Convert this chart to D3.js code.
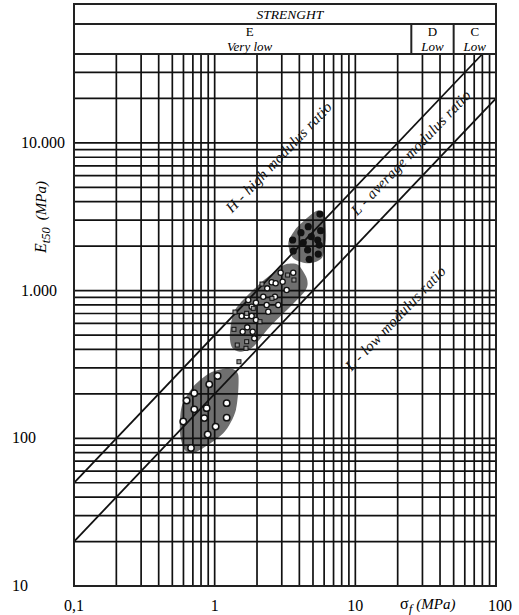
<!DOCTYPE html>
<html lang="en">
<head>
<meta charset="UTF-8">
<title>Modulus ratio chart</title>
<script src="https://d3js.org/d3.v7.min.js"></script>
<style>
  body { margin: 0; background: #fff; }
  svg { display: block; font-family: 'Liberation Serif', 'Times New Roman', serif; }
</style>
</head>
<body>
<div id="chart"></div>
<script>
// axis ticks
const xTickValues = [0.1, 1, 10, 100];
const xTickLabels = ["0,1", "1", "10", "100"];
const yTickValues = [10, 100, 1000, 10000];
const yTickLabels = ["10", "100", "1.000", "10.000"];

// strength classes in the header
const strengthBounds = [0.1, 25, 50, 100];
const strengthLetters = ["E", "D", "C"];
const strengthNames = ["Very low", "Low", "Low"];

// modulus ratio lines, E = ratio * sigma
const ratioValues = [500, 200];
const ratioLabels = ["H - high modulus ratio", "L - average modulus ratio", "L - low modulus ratio"];
const ratioLabelRatio = [2500, 310, 30];
const ratioLabelStart = [1.33, 10.3, 9.4];

// samples: [sigma_f, E_t50] in MPa
const lowBlob = [[1.252, 298], [1.472, 268], [1.417, 156], [1.151, 108], [0.745, 81],
  [0.615, 83], [0.567, 109], [0.583, 164], [0.705, 224], [0.926, 277]];
const lowCircles = [[1.05, 264], [0.915, 232], [0.716, 202], [0.632, 180], [1.217, 173],
  [0.716, 157], [0.877, 160], [0.844, 137], [0.598, 130], [1.217, 138], [1.016, 120],
  [0.892, 106], [0.679, 86]];

const midBlob = [[3.929, 1491], [4.551, 1180], [4.263, 958], [2.472, 569], [1.881, 417],
  [1.513, 386], [1.321, 417], [1.284, 514], [1.394, 739], [1.988, 1063], [2.758, 1379], [3.249, 1514]];
const midCircles = [[2.541, 1138], [2.713, 1121], [3.043, 1149], [2.945, 1322], [3.619, 1322],
  [2.364, 1036], [3.249, 1009], [2.215, 909], [2.683, 909], [1.733, 864], [1.966, 828],
  [2.342, 799], [2.831, 799], [1.832, 778], [2.404, 720], [1.556, 673], [1.689, 673],
  [1.832, 673], [1.966, 632], [1.705, 564], [1.863, 527], [1.581, 527], [1.912, 475]];
const midSquares = [[3.303, 1275], [3.661, 1180], [1.881, 759], [1.689, 702], [1.371, 547],
  [1.447, 428], [1.689, 451], [1.670, 407], [2.099, 616], [2.554, 887], [1.394, 716],
  [2.169, 1108], [1.488, 330]];

const highBlob = [[5.539, 3475], [6.078, 3250], [6.18, 2201], [5.761, 1655], [4.626, 1530],
  [3.619, 1655], [3.335, 2090], [3.721, 2572], [4.507, 3087], [5.163, 3421]];
const highDots = [[5.604, 3300], [4.626, 2708], [5.668, 2545], [4.105, 2466], [4.86, 2317],
  [5.397, 2201], [3.584, 2201], [4.263, 2110], [5.539, 2035], [3.619, 1854], [4.581, 1883],
  [5.449, 1769], [4.703, 1629]];

const width = 519, height = 615;
const x = d3.scaleLog().domain([0.1, 100]).range([74, 496]);
const y = d3.scaleLog().domain([10, 40000]).range([586, 54]);
const headerTop = 4, headerMid = 24;

const svg = d3.select("#chart").append("svg")
  .attr("width", width).attr("height", height);

// blobs behind the grid
const blobLine = d3.line().x(d => x(d[0])).y(d => y(d[1])).curve(d3.curveCardinalClosed.tension(0.2));
svg.selectAll("path.blob")
  .data([lowBlob, midBlob, highBlob])
  .join("path")
  .attr("class", "blob")
  .attr("d", blobLine)
  .attr("fill", "#6f6f6f");

// grid
const gridStroke = 1.7;
svg.append("g").selectAll("line")
  .data(x.ticks())
  .join("line")
  .attr("x1", d => x(d)).attr("x2", d => x(d))
  .attr("y1", y.range()[1]).attr("y2", y.range()[0])
  .attr("stroke", "#111").attr("stroke-width", gridStroke);

svg.append("g").selectAll("line")
  .data(y.ticks().filter(d => d <= 40000))
  .join("line")
  .attr("x1", x.range()[0]).attr("x2", x.range()[1])
  .attr("y1", d => y(d)).attr("y2", d => y(d))
  .attr("stroke", "#111").attr("stroke-width", gridStroke);

// modulus ratio lines
svg.append("g").selectAll("line")
  .data(ratioValues)
  .join("line")
  .attr("x1", x(0.1)).attr("y1", r => y(r * 0.1))
  .attr("x2", r => x(Math.min(100, 40000 / r)))
  .attr("y2", r => y(Math.min(100, 40000 / r) * r))
  .attr("stroke", "#111").attr("stroke-width", 1.8);

const angle = Math.atan2(y(1000) - y(100), x(10) - x(1)) * 180 / Math.PI;
svg.append("g").selectAll("text")
  .data(ratioLabels)
  .join("text")
  .attr("transform", (d, i) => {
    const s = ratioLabelStart[i];
    return `translate(${x(s)},${y(s * ratioLabelRatio[i])}) rotate(${angle})`;
  })
  .attr("font-size", 15)
  .attr("letter-spacing", 0.4)
  .attr("font-style", "italic")
  .attr("fill", "#111")
  .text(d => d);

// header
const header = svg.append("g").attr("fill", "none").attr("stroke", "#222").attr("stroke-width", 2);
header.append("rect")
  .attr("x", x.range()[0]).attr("y", headerTop)
  .attr("width", x.range()[1] - x.range()[0]).attr("height", y.range()[0] - headerTop);
header.append("line")
  .attr("x1", x.range()[0]).attr("x2", x.range()[1])
  .attr("y1", headerMid).attr("y2", headerMid);
header.append("line")
  .attr("x1", x.range()[0]).attr("x2", x.range()[1])
  .attr("y1", y.range()[1]).attr("y2", y.range()[1]);
header.selectAll("line.sep")
  .data(strengthBounds.slice(1, -1))
  .join("line")
  .attr("class", "sep")
  .attr("x1", d => x(d)).attr("x2", d => x(d))
  .attr("y1", headerMid).attr("y2", y.range()[1]);

svg.append("text")
  .attr("x", (x.range()[0] + x.range()[1]) / 2 + 5).attr("y", 19)
  .attr("text-anchor", "middle")
  .attr("font-size", 13.5).attr("font-style", "italic")
  .text("STRENGHT");

const cls = svg.append("g").selectAll("g")
  .data(strengthLetters)
  .join("g")
  .attr("transform", (d, i) => {
    const cx = (x(strengthBounds[i]) + x(strengthBounds[i + 1])) / 2;
    return `translate(${i === 0 ? cx + 7 : cx},0)`;
  })
  .attr("text-anchor", "middle")
  .attr("font-size", 13);
cls.append("text").attr("y", 35.5).text(d => d);
cls.append("text").attr("y", 50.5).attr("font-style", "italic").text((d, i) => strengthNames[i]);

// markers
svg.append("g").selectAll("circle")
  .data(lowCircles)
  .join("circle")
  .attr("cx", d => x(d[0])).attr("cy", d => y(d[1])).attr("r", 3.2)
  .attr("fill", "#fff").attr("stroke", "#111").attr("stroke-width", 1.5);

svg.append("g").selectAll("circle")
  .data(midCircles)
  .join("circle")
  .attr("cx", d => x(d[0])).attr("cy", d => y(d[1])).attr("r", 2.6)
  .attr("fill", "#fff").attr("stroke", "#111").attr("stroke-width", 1.3);

svg.append("g").selectAll("rect")
  .data(midSquares)
  .join("rect")
  .attr("x", d => x(d[0]) - 2).attr("y", d => y(d[1]) - 2)
  .attr("width", 4).attr("height", 4)
  .attr("fill", "#9a9a9a").attr("stroke", "#111").attr("stroke-width", 1);

svg.append("g").selectAll("circle")
  .data(highDots)
  .join("circle")
  .attr("cx", d => x(d[0])).attr("cy", d => y(d[1])).attr("r", 3.6)
  .attr("fill", "#111");

// tick labels
svg.append("g").selectAll("text")
  .data(yTickValues)
  .join("text")
  .attr("x", d => d >= 1000 ? 21 : 12)
  .attr("y", d => y(d) + 5)
  .attr("font-size", 16)
  .text((d, i) => yTickLabels[i]);

svg.append("g").selectAll("text")
  .data(xTickValues)
  .join("text")
  .attr("x", d => x(d) + (d === 100 ? 4 : 0))
  .attr("y", 611)
  .attr("text-anchor", "middle")
  .attr("font-size", 16)
  .text((d, i) => xTickLabels[i]);

// axis titles
const xt = svg.append("text").attr("x", 400).attr("y", 609).attr("font-size", 16);
xt.append("tspan").text("σ");
xt.append("tspan").attr("font-style", "italic").attr("font-size", 13).attr("dy", 4).text("f");
xt.append("tspan").attr("font-style", "italic").attr("font-size", 15).attr("dy", -4).attr("dx", 4).text("(MPa)");

const yt = svg.append("text")
  .attr("transform", "translate(46,253) rotate(-90)")
  .attr("font-size", 16).attr("font-style", "italic");
yt.append("tspan").text("E");
yt.append("tspan").attr("font-size", 12.5).attr("dy", 4).text("t50");
yt.append("tspan").attr("font-size", 15).attr("dy", -4).attr("dx", 7).text("(MPa)");
</script>
</body>
</html>
